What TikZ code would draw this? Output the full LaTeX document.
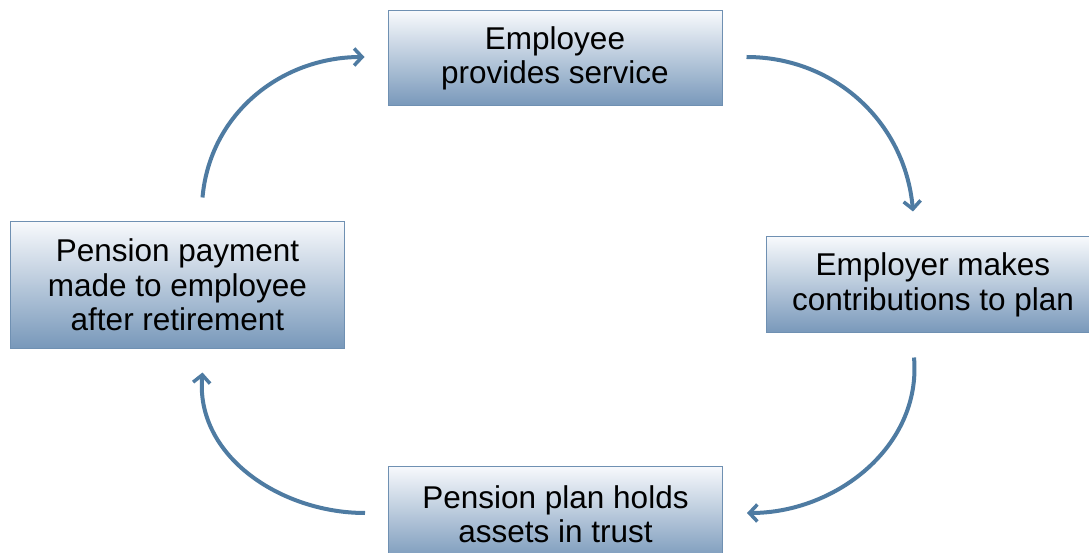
\documentclass[tikz,border=0pt]{standalone}
\usepackage{fontspec}
\setmainfont{Liberation Sans}
\usetikzlibrary{arrows.meta,calc}
\definecolor{boxtop}{HTML}{F7F9FC}
\definecolor{boxbot}{HTML}{7898BA}
\definecolor{boxline}{HTML}{6F90B2}
\definecolor{arrowc}{HTML}{4E7BA2}
\tikzset{
  stepbox/.style={draw=boxline, line width=1pt, top color=boxtop, bottom color=boxbot,
    minimum width=334pt, minimum height=95pt, inner sep=0pt, align=center,
    font=\fontsize{31.5}{34.5}\selectfont},
  flow/.style={draw=arrowc, line width=4pt, -{Straight Barb[length=8pt,width=17pt,line width=3.5pt]}}
}
\begin{document}
\begin{tikzpicture}[x=1pt,y=1pt]
\useasboundingbox (0,0) rectangle (1089,552);
\fill[white] (0,0) rectangle (1089,552);
\node[stepbox] (top) at (555,493.5) {Employee\\provides service};
\node[stepbox, minimum height=96pt] (right) at (933,267) {Employer makes\\contributions to plan};
\node[stepbox] (bottom) at (555.5,38) {Pension plan holds\\assets in trust};
\node[stepbox, minimum height=126pt] (left) at (177.5,267) {Pension payment\\made to employee\\after retirement};
\draw[flow] ([xshift=25pt,yshift=24pt]left.north) to[out=85,in=180] ([xshift=-23pt,yshift=1.5pt]top.west);
\draw[flow] ([xshift=24pt,yshift=1.5pt]top.east) to[out=0,in=95] ([xshift=-20pt,yshift=25pt]right.north);
\draw[flow] ([xshift=-19pt,yshift=-24pt]right.south) to[out=-85,in=0] ([xshift=24pt,yshift=1pt]bottom.east);
\draw[flow] ([xshift=-23pt,yshift=1pt]bottom.west) to[out=180,in=-95] ([xshift=25pt,yshift=-24pt]left.south);
\end{tikzpicture}
\end{document}
